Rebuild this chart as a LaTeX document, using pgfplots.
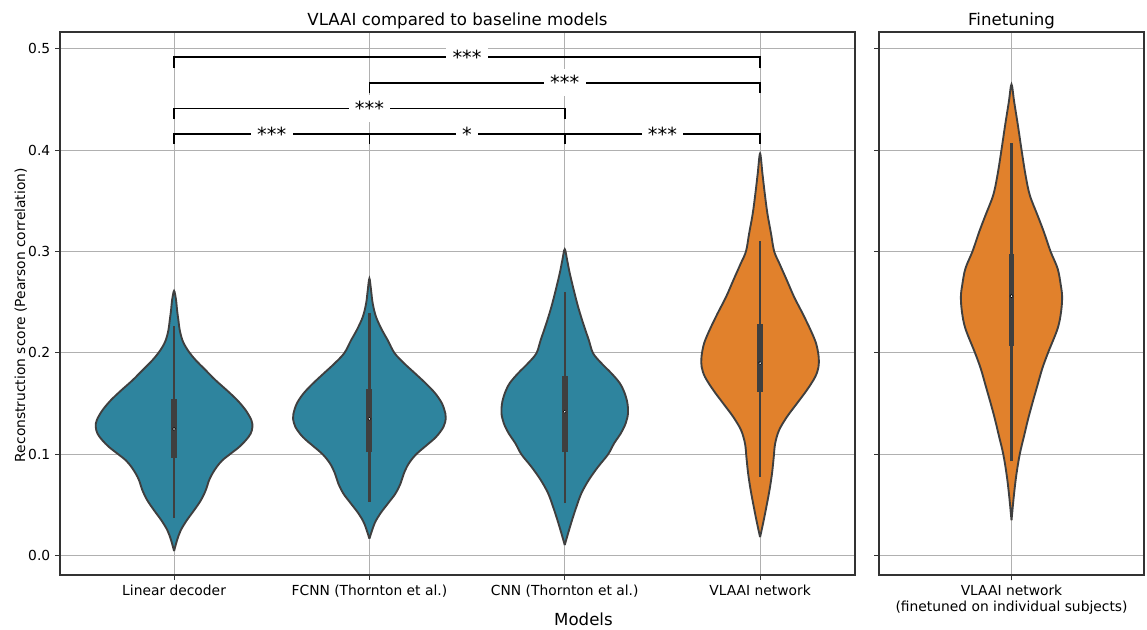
\documentclass[border=0pt]{standalone}
\usepackage{pgfplots}
\pgfplotsset{compat=1.18}
\usepackage{fontspec}
\setmainfont{DejaVu Sans}
\definecolor{vblue}{HTML}{2E849E}
\definecolor{vorange}{HTML}{E1812C}
\definecolor{vedge}{HTML}{3F3F3F}
\definecolor{gridc}{HTML}{B0B0B0}
\definecolor{spine}{HTML}{333333}

\pgfplotsset{
  common/.style={
    scale only axis, height=390.96bp,
    ymin=-0.019, ymax=0.5165,
    ytick={0,0.1,0.2,0.3,0.4,0.5},
    grid=major, major grid style={gridc, line width=0.8bp},
    axis line style={spine, line width=0.8bp},
    tick style={spine, line width=0.8bp},
    tick align=outside, major tick length=3.5bp,
    xtick pos=bottom, ytick pos=left,
    tick label style={font=\fontsize{10}{12}\selectfont},
    /pgf/number format/assume math mode=true,
    yticklabel style={/pgf/number format/fixed, /pgf/number format/fixed zerofill, /pgf/number format/precision=1},
    title style={font=\fontsize{12}{14}\selectfont, anchor=base, yshift=-1bp},
  },
  violin/.style={draw=vedge, line width=1.35bp, smooth, tension=0.55, fill=#1},
  whisk/.style={vedge, line width=1.6bp, line cap=butt},
  qbox/.style={vedge, line width=4.3bp, line cap=butt},
  med/.style={only marks, mark=*, mark size=1.1bp, mark options={fill=white, draw=none}},
  brk/.style={black, line width=1.3bp, sharp plot},
}
\tikzset{star/.style={fill=white, font=\fontsize{14}{16}\selectfont, inner xsep=4.5bp, inner ysep=4.5bp}}

\begin{document}
\begin{tikzpicture}
\useasboundingbox (0,0) rectangle (825.84bp,452.88bp);

\begin{axis}[common,
  at={(43.2bp,38.88bp)}, anchor=south west,
  width=572.4bp,
  xmin=-0.584, xmax=3.486,
  xtick={0,1,2,3},
  xticklabels={Linear decoder, FCNN (Thornton et al.), CNN (Thornton et al.), VLAAI network},
  title={VLAAI compared to baseline models},
]
% Linear decoder
\addplot[violin=vblue] table[x expr=0+\thisrow{s}, y=y] {
y s
0.0046 0
0.0151 0.015
0.0250 0.034
0.0349 0.065
0.0447 0.102
0.0546 0.137
0.0645 0.162
0.0743 0.179
0.0809 0.196
0.0875 0.218
0.0941 0.247
0.1007 0.290
0.1072 0.333
0.1138 0.367
0.1204 0.392
0.1270 0.401
0.1336 0.396
0.1434 0.367
0.1533 0.324
0.1632 0.270
0.1730 0.213
0.1829 0.162
0.1928 0.111
0.2000 0.0802
0.2059 0.0597
0.2125 0.0427
0.2224 0.029
0.2322 0.0222
0.2421 0.0154
0.2520 0.0102
0.2612 0
0.2520 -0.0102
0.2421 -0.0154
0.2322 -0.0222
0.2224 -0.029
0.2125 -0.0427
0.2059 -0.0597
0.2000 -0.0802
0.1928 -0.111
0.1829 -0.162
0.1730 -0.213
0.1632 -0.270
0.1533 -0.324
0.1434 -0.367
0.1336 -0.396
0.1270 -0.401
0.1204 -0.392
0.1138 -0.367
0.1072 -0.333
0.1007 -0.290
0.0941 -0.247
0.0875 -0.218
0.0809 -0.196
0.0743 -0.179
0.0645 -0.162
0.0546 -0.137
0.0447 -0.102
0.0349 -0.065
0.0250 -0.034
0.0151 -0.015
0.0046 0
};
% FCNN
\addplot[violin=vblue] table[x expr=1+\thisrow{s}, y=y] {
y s
0.0168 0
0.0316 0.026
0.0414 0.055
0.0513 0.094
0.0612 0.133
0.0711 0.159
0.0809 0.176
0.0908 0.201
0.1000 0.239
0.1072 0.282
0.1171 0.341
0.1270 0.379
0.1352 0.391
0.1401 0.389
0.1500 0.372
0.1599 0.338
0.1697 0.290
0.1796 0.235
0.1895 0.179
0.2000 0.128
0.2125 0.094
0.2224 0.065
0.2355 0.034
0.2487 0.017
0.2618 0.0085
0.2734 0
0.2618 -0.0085
0.2487 -0.017
0.2355 -0.034
0.2224 -0.065
0.2125 -0.094
0.2000 -0.128
0.1895 -0.179
0.1796 -0.235
0.1697 -0.290
0.1599 -0.338
0.1500 -0.372
0.1401 -0.389
0.1352 -0.391
0.1270 -0.379
0.1171 -0.341
0.1072 -0.282
0.1000 -0.239
0.0908 -0.201
0.0809 -0.176
0.0711 -0.159
0.0612 -0.133
0.0513 -0.094
0.0414 -0.055
0.0316 -0.026
0.0168 0
};
% CNN
\addplot[violin=vblue] table[x expr=2+\thisrow{s}, y=y] {
y s
0.0105 0
0.0220 0.017
0.0352 0.0375
0.0484 0.060
0.0615 0.085
0.0747 0.123
0.0878 0.171
0.1000 0.222
0.1109 0.253
0.1207 0.287
0.1306 0.312
0.1405 0.324
0.1503 0.321
0.1602 0.307
0.1701 0.282
0.1799 0.239
0.1898 0.188
0.1997 0.145
0.2128 0.123
0.2293 0.094
0.2457 0.068
0.2622 0.046
0.2786 0.0256
0.2918 0.012
0.3023 0
0.2918 -0.012
0.2786 -0.0256
0.2622 -0.046
0.2457 -0.068
0.2293 -0.094
0.2128 -0.123
0.1997 -0.145
0.1898 -0.188
0.1799 -0.239
0.1701 -0.282
0.1602 -0.307
0.1503 -0.321
0.1405 -0.324
0.1306 -0.312
0.1207 -0.287
0.1109 -0.253
0.1000 -0.222
0.0878 -0.171
0.0747 -0.123
0.0615 -0.085
0.0484 -0.060
0.0352 -0.0375
0.0220 -0.017
0.0105 0
};
% VLAAI
\addplot[violin=vorange] table[x expr=3+\thisrow{s}, y=y] {
y s
0.0184 0
0.0316 0.015
0.0480 0.032
0.0645 0.048
0.0809 0.061
0.0974 0.070
0.1105 0.077
0.1237 0.097
0.1368 0.137
0.1500 0.188
0.1632 0.239
0.1763 0.282
0.1862 0.299
0.1961 0.300
0.2092 0.287
0.2224 0.259
0.2388 0.218
0.2553 0.174
0.2717 0.137
0.2882 0.099
0.3003 0.072
0.3178 0.056
0.3375 0.0375
0.3572 0.024
0.3770 0.012
0.3967 0
0.3770 -0.012
0.3572 -0.024
0.3375 -0.0375
0.3178 -0.056
0.3003 -0.072
0.2882 -0.099
0.2717 -0.137
0.2553 -0.174
0.2388 -0.218
0.2224 -0.259
0.2092 -0.287
0.1961 -0.300
0.1862 -0.299
0.1763 -0.282
0.1632 -0.239
0.1500 -0.188
0.1368 -0.137
0.1237 -0.097
0.1105 -0.077
0.0974 -0.070
0.0809 -0.061
0.0645 -0.048
0.0480 -0.032
0.0316 -0.015
0.0184 0
};
% whiskers, boxes, medians
\addplot[whisk] coordinates {(0,0.0375) (0,0.227)};
\addplot[whisk] coordinates {(1,0.053) (1,0.239)};
\addplot[whisk] coordinates {(2,0.052) (2,0.26)};
\addplot[whisk] coordinates {(3,0.078) (3,0.3105)};
\addplot[qbox] coordinates {(0,0.0967) (0,0.155)};
\addplot[qbox] coordinates {(1,0.102) (1,0.164)};
\addplot[qbox] coordinates {(2,0.102) (2,0.177)};
\addplot[qbox] coordinates {(3,0.1615) (3,0.229)};
\addplot[med] coordinates {(0,0.125) (1,0.135) (2,0.142) (3,0.19)};
% significance brackets
\addplot[brk] coordinates {(0,0.481) (0,0.4915) (3,0.4915) (3,0.481)};
\addplot[brk] coordinates {(1,0.456) (1,0.4665) (3,0.4665) (3,0.456)};
\addplot[brk] coordinates {(0,0.431) (0,0.441) (2,0.441) (2,0.431)};
\addplot[brk] coordinates {(0,0.406) (0,0.416) (1,0.416) (1,0.406)};
\addplot[brk] coordinates {(1,0.406) (1,0.416) (2,0.416) (2,0.406)};
\addplot[brk] coordinates {(2,0.406) (2,0.416) (3,0.416) (3,0.406)};
\node[star] at (axis cs:1.5,0.4915) {***};
\node[star] at (axis cs:2,0.4665) {***};
\node[star] at (axis cs:1,0.441) {***};
\node[star] at (axis cs:0.5,0.416) {***};
\node[star] at (axis cs:1.5,0.416) {*};
\node[star] at (axis cs:2.5,0.416) {***};
\end{axis}

\begin{axis}[common,
  at={(632.88bp,38.88bp)}, anchor=south west,
  width=190.8bp,
  xmin=-0.5, xmax=0.5,
  xtick={0},
  xticklabels={{VLAAI network\\(finetuned on individual subjects)}},
  xticklabel style={align=center},
  yticklabels={},
  title={Finetuning},
]
\addplot[violin=vorange] table[x expr=\thisrow{s}, y=y] {
y s
0.0349 0
0.0595 0.009
0.0793 0.018
0.1000 0.031
0.1188 0.048
0.1352 0.063
0.1516 0.080
0.1681 0.098
0.1845 0.116
0.2003 0.138
0.2240 0.174
0.2405 0.187
0.2553 0.191
0.2668 0.186
0.2832 0.174
0.3003 0.147
0.3194 0.122
0.3359 0.098
0.3556 0.069
0.3753 0.053
0.4000 0.038
0.4247 0.024
0.4477 0.010
0.4648 0
0.4477 -0.010
0.4247 -0.024
0.4000 -0.038
0.3753 -0.053
0.3556 -0.069
0.3359 -0.098
0.3194 -0.122
0.3003 -0.147
0.2832 -0.174
0.2668 -0.186
0.2553 -0.191
0.2405 -0.187
0.2240 -0.174
0.2003 -0.138
0.1845 -0.116
0.1681 -0.098
0.1516 -0.080
0.1352 -0.063
0.1188 -0.048
0.1000 -0.031
0.0793 -0.018
0.0595 -0.009
0.0349 0
};
\addplot[whisk] coordinates {(0,0.093) (0,0.4066)};
\addplot[qbox] coordinates {(0,0.207) (0,0.298)};
\addplot[med] coordinates {(0,0.256)};
\end{axis}

\node[anchor=base, font=\fontsize{12}{14}\selectfont, inner sep=1bp] at (420.1bp,2.4bp) {Models};
\node[rotate=90, anchor=base, font=\fontsize{10}{12}\selectfont] at (18bp,226bp) {Reconstruction score (Pearson correlation)};
\end{tikzpicture}
\end{document}
